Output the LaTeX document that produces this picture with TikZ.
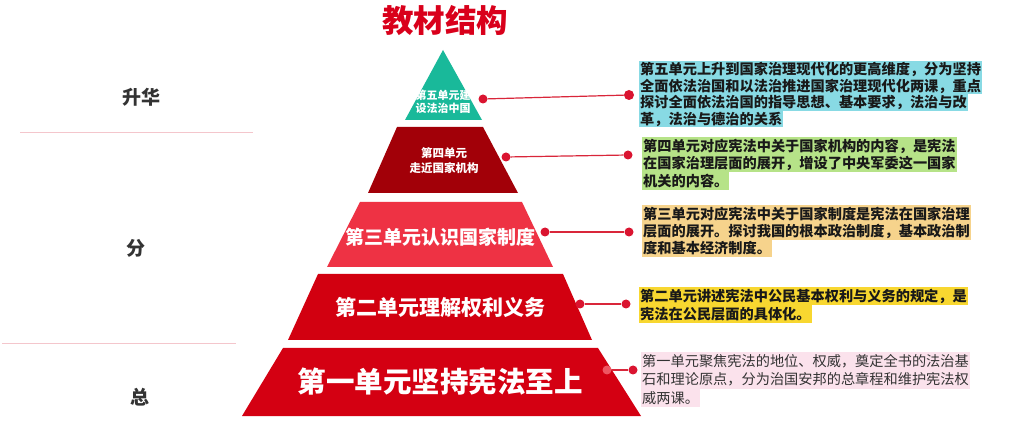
\documentclass[tikz,border=0pt]{standalone}
\usepackage{fontspec}
\newfontfamily\cjk{Noto Sans CJK SC}
\definecolor{teal5}{HTML}{19B99A}
\definecolor{red4}{HTML}{A20008}
\definecolor{red3}{HTML}{EE3244}
\definecolor{red2}{HTML}{D20010}
\definecolor{red1}{HTML}{D40012}
\definecolor{titlered}{HTML}{D9001B}
\definecolor{conred}{HTML}{D9263A}
\definecolor{dotred}{HTML}{DA1430}
\definecolor{bgcyan}{HTML}{88DAE4}
\definecolor{bggreen}{HTML}{B6E388}
\definecolor{bgtan}{HTML}{F6D38C}
\definecolor{bgyellow}{HTML}{F8D730}
\definecolor{bgpink}{HTML}{FBE2EC}
\definecolor{sep}{HTML}{F4C6CC}
\definecolor{dark}{HTML}{333333}
\begin{document}
\begin{tikzpicture}[x=1pt,y=-1pt,
  hl/.style={anchor=west, inner xsep=1pt, inner ysep=0pt, text=black!90,
    font=\cjk\bfseries\fontsize{14.2}{14.2}\selectfont},
  layertext/.style={text=white, align=center, inner sep=0pt},
  dot/.style={circle, fill=dotred, inner sep=0pt, minimum size=9pt},
  conn/.style={draw=conred, line width=1.2pt},
  side/.style={text=dark, font=\cjk\bfseries\fontsize{19}{19}\selectfont},
  sepline/.style={draw=sep, line width=0.8pt}]
\useasboundingbox[fill=white] (0,0) rectangle (1018,446);

% title
\node[text=titlered, font=\cjk\bfseries\fontsize{31.5}{31.5}\selectfont] (title) at (445,21) {教材结构};

% left labels
\node[side] (sh) at (141,97) {升华};
\node[side] (fen) at (136,248) {分};
\node[side] (zong) at (140,397) {总};
\coordinate (s1a) at (20,132); \coordinate (s1b) at (253,132);
\coordinate (s2a) at (2,343); \coordinate (s2b) at (236,343);
\draw[sepline] (s1a) -- (s1b);
\draw[sepline] (s2a) -- (s2b);

% pyramid
\fill[teal5] (443,50) -- (482,120) -- (405,120) -- cycle;
\fill[red4] (397,127) -- (483,127) -- (518,193) -- (368,193) -- cycle;
\fill[red3] (360,202) -- (522,202) -- (553,267) -- (327,267) -- cycle;
\fill[red2] (318,274) -- (563,274) -- (592,340) -- (288,340) -- cycle;
\fill[red1] (283,348) -- (598,348) -- (641,416) -- (242,416) -- cycle;

\node[layertext, font=\cjk\bfseries\fontsize{11}{13}\selectfont] (u5) at (443,101.5) {第五单元建\\设法治中国};
\node[layertext, font=\cjk\bfseries\fontsize{11.5}{15}\selectfont] (u4) at (444,160.5) {第四单元\\走近国家机构};
\node[layertext, font=\cjk\bfseries\fontsize{19}{19}\selectfont] (u3) at (440,237) {第三单元认识国家制度};
\node[layertext, font=\cjk\bfseries\fontsize{21}{21}\selectfont] (u2) at (440,307) {第二单元理解权利义务};
\node[layertext, font=\cjk\bfseries\fontsize{28.5}{28.5}\selectfont] (u1) at (440,381) {第一单元坚持宪法至上};

% connectors
\node[dot] (d5l) at (483,99) {};  \node[dot, minimum size=10pt] (d5r) at (629,95) {};
\node[dot] (d4l) at (506,157) {}; \node[dot] (d4r) at (628,155) {};
\node[dot] (d3l) at (545,232) {}; \node[dot] (d3r) at (629,232) {};
\node[dot] (d2l) at (580,304) {}; \node[dot] (d2r) at (626,304) {};
\node[dot, fill=red!35!dotred!70] (d1l) at (607,370) {}; \node[dot] (d1r) at (633,370) {};
\draw[conn] (d5l) -- (d5r);
\draw[conn] (d4l) -- (d4r);
\draw[conn] (d3l) -- (d3r);
\draw[conn] (d2l) -- (d2r);
\draw[conn] (d1l) -- (d1r);

% box 5
\begin{scope}[every node/.append style={hl, fill=bgcyan, minimum height=16.5pt}]
\node (b5a) at (639,69.5) {第五单元上升到国家治理现代化的更高维度，分为坚持};
\node (b5b) at (639,86) {全面依法治国和以法治推进国家治理现代化两课，重点};
\node (b5c) at (639,102.5) {探讨全面依法治国的指导思想、基本要求，法治与改};
\node (b5d) at (639,119) {革，法治与德治的关系};
\end{scope}
% box 4
\begin{scope}[every node/.append style={hl, fill=bggreen, minimum height=17.5pt}]
\node (b4a) at (642,146) {第四单元对应宪法中关于国家机构的内容，是宪法};
\node (b4b) at (642,163.5) {在国家治理层面的展开，增设了中央军委这一国家};
\node (b4c) at (642,181) {机关的内容。};
\end{scope}
% box 3
\begin{scope}[every node/.append style={hl, fill=bgtan, minimum height=17.3pt}]
\node (b3a) at (642,213.7) {第三单元对应宪法中关于国家制度是宪法在国家治理};
\node (b3b) at (642,231) {层面的展开。探讨我国的根本政治制度，基本政治制};
\node (b3c) at (642,248.3) {度和基本经济制度。};
\end{scope}
% box 2
\begin{scope}[every node/.append style={hl, fill=bgyellow, minimum height=18pt}]
\node (b2a) at (639,296) {第二单元讲述宪法中公民基本权利与义务的规定，是};
\node (b2b) at (639,314) {宪法在公民层面的具体化。};
\end{scope}
% box 1
\begin{scope}[every node/.append style={hl, fill=bgpink, minimum height=18.3pt, text=dark, font=\cjk\fontsize{14.2}{14.2}\selectfont}]
\node (b1a) at (641,361) {第一单元聚焦宪法的地位、权威，奠定全书的法治基};
\node (b1b) at (641,379.5) {石和理论原点，分为治国安邦的总章程和维护宪法权};
\node (b1c) at (641,398) {威两课。};
\end{scope}
\end{tikzpicture}
\end{document}
